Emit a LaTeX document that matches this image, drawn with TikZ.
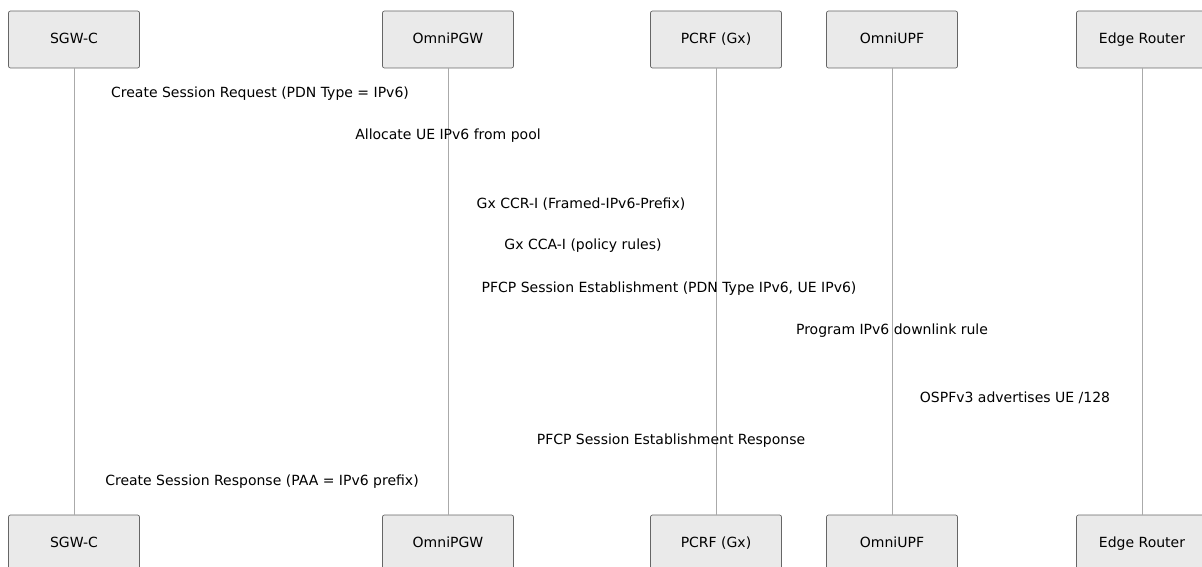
\documentclass[tikz,border=0pt]{standalone}
\usepackage{fontspec}
\setmainfont{DejaVu Sans}
\usepackage{tikz}
\usetikzlibrary{positioning}
\definecolor{actorfill}{RGB}{234, 234, 234}
\definecolor{actordraw}{RGB}{102, 102, 102}
\definecolor{lifegray}{RGB}{170, 170, 170}
\tikzset{
  actor/.style    = {rectangle, rounded corners=2pt, draw=actordraw, fill=actorfill, line width=0.7pt, minimum width=131pt, minimum height=57pt, inner sep=0pt, text height=1em, text depth=0.2em, align=center, font=\fontsize{14}{16}\selectfont},
  lifeline/.style = {lifegray, line width=0.9pt},
  msg/.style      = {inner sep=0pt, text height=1em, text depth=0.2em, font=\fontsize{14}{16}\selectfont},
}

\begin{document}
\begin{tikzpicture}[x=1pt, y=-1pt]
  \useasboundingbox (0,0) rectangle (1202,567);

  % actors, top row
  \node[actor] (sgwT)  at (74,39.5)   {SGW-C};
  \node[actor] (pgwT)  at (448,39.5)  {OmniPGW};
  \node[actor] (pcrfT) at (716,39.5)  {PCRF (Gx)};
  \node[actor] (upfT)  at (892,39.5)  {OmniUPF};
  \node[actor] (erT)   at (1142,39.5) {Edge Router};

  % actors, bottom row
  \node[actor] (sgwB)  at (74,543.5)   {SGW-C};
  \node[actor] (pgwB)  at (448,543.5)  {OmniPGW};
  \node[actor] (pcrfB) at (716,543.5)  {PCRF (Gx)};
  \node[actor] (upfB)  at (892,543.5)  {OmniUPF};
  \node[actor] (erB)   at (1142,543.5) {Edge Router};

  % lifelines
  \foreach \a in {sgw, pgw, pcrf, upf, er}
    \draw[lifeline] (\a T.south) -- (\a B.north);

  % messages
  \node[msg] (csreq)   at (260,94)  {Create Session Request (PDN Type = IPv6)};
  \node[msg] (alloc)   at (448,136) {Allocate UE IPv6 from pool};
  \node[msg] (ccri)    at (581,204) {Gx CCR-I (Framed-IPv6-Prefix)};
  \node[msg] (ccai)    at (583,245) {Gx CCA-I (policy rules)};
  \node[msg] (pfcpreq) at (669,288) {PFCP Session Establishment (PDN Type IPv6, UE IPv6)};
  \node[msg] (prog)    at (892,330) {Program IPv6 downlink rule};
  \node[msg] (ospf)    at (1015,398) {OSPFv3 advertises UE /128};
  \node[msg] (pfcprsp) at (671,440) {PFCP Session Establishment Response};
  \node[msg] (csrsp)   at (262,481) {Create Session Response (PAA = IPv6 prefix)};
\end{tikzpicture}
\end{document}
